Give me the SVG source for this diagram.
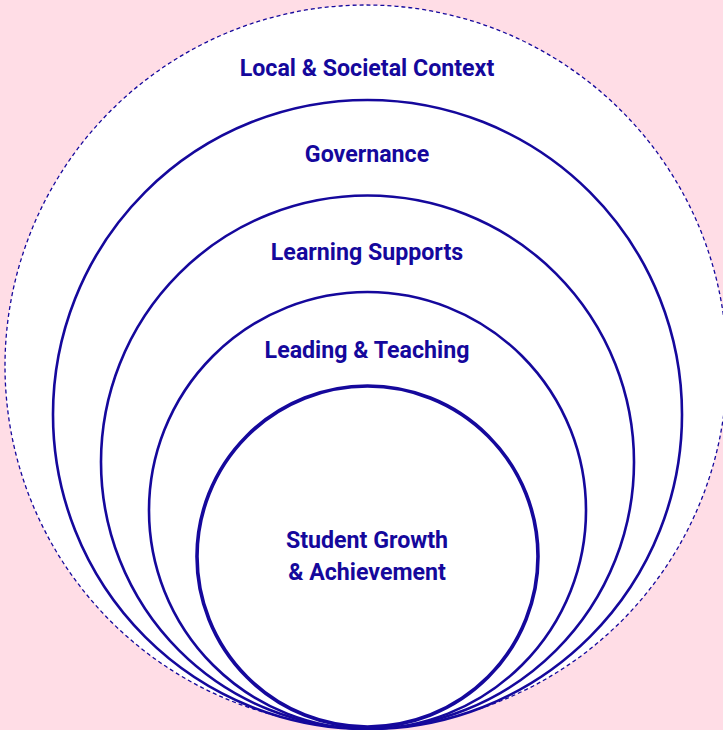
<svg xmlns="http://www.w3.org/2000/svg" width="723" height="730" viewBox="0 0 723 730">
  <style>
    .ring { fill: #ffffff; stroke: #15089c; stroke-width: 2.6; }
    .core { fill: #ffffff; stroke: #15089c; stroke-width: 3.6; }
    .outer { fill: #ffffff; stroke: #15089c; stroke-width: 1.3; stroke-dasharray: 4 3; }
    .label { font-family: Roboto, "Liberation Sans", sans-serif; font-weight: 700; font-size: 23.2px; fill: #15089c; text-anchor: middle; }
  </style>
  <rect width="723" height="730" fill="#ffdde6"/>
  <g id="local-societal-context">
    <circle class="outer" cx="366" cy="366" r="361"/>
    <text class="label" x="367" y="76">Local &amp; Societal Context</text>
  </g>
  <g id="governance">
    <circle class="ring" cx="367.5" cy="414.5" r="314.5"/>
    <text class="label" x="367" y="162">Governance</text>
  </g>
  <g id="learning-supports">
    <circle class="ring" cx="367.5" cy="462" r="266.5"/>
    <text class="label" x="367" y="260">Learning Supports</text>
  </g>
  <g id="leading-teaching">
    <circle class="ring" cx="367.5" cy="510.5" r="218.5"/>
    <text class="label" x="367" y="358">Leading &amp; Teaching</text>
  </g>
  <g id="student-growth">
    <circle class="core" cx="367.5" cy="556.5" r="170.5"/>
    <text class="label" x="367" y="548">Student Growth</text>
    <text class="label" x="367" y="580">&amp; Achievement</text>
  </g>
</svg>
